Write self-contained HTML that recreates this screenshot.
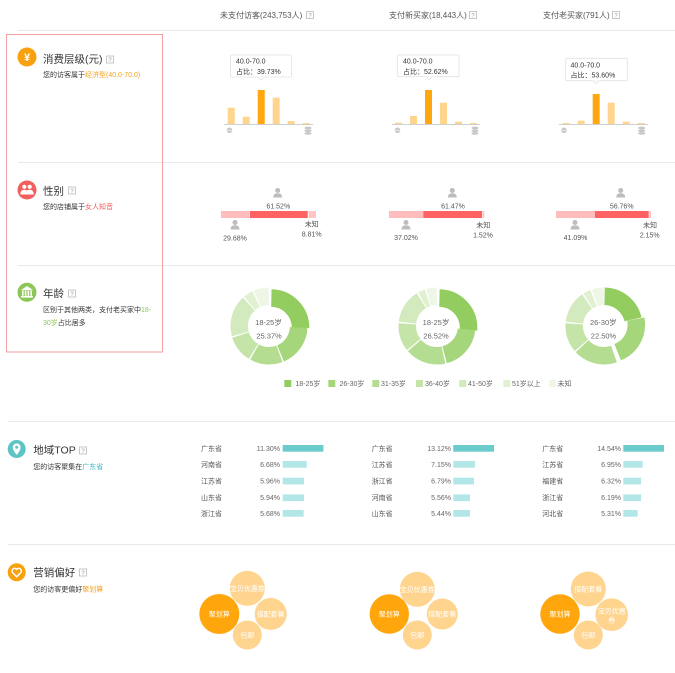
<!DOCTYPE html>
<html><head><meta charset="utf-8"><style>
html,body{margin:0;padding:0;background:#fff;}
svg{display:block;font-family:"Liberation Sans","Noto Sans CJK SC",sans-serif;}
</style></head><body>
<svg width="675" height="673" viewBox="0 0 675 673" xmlns="http://www.w3.org/2000/svg">
<rect width="675" height="673" fill="#fff"/>
<!-- header -->
<g font-size="8" fill="#555">
<text x="220" y="18">未支付访客(243,753人)</text>
<rect x="306.5" y="11.5" width="7" height="7" fill="none" stroke="#bbb" stroke-width="0.8"/><text x="310" y="17.3" font-size="6" fill="#999" text-anchor="middle">?</text>
<text x="389" y="18">支付新买家(18,443人)</text>
<rect x="469.5" y="11.5" width="7" height="7" fill="none" stroke="#bbb" stroke-width="0.8"/><text x="473" y="17.3" font-size="6" fill="#999" text-anchor="middle">?</text>
<text x="543" y="18">支付老买家(791人)</text>
<rect x="612.5" y="11.5" width="7" height="7" fill="none" stroke="#bbb" stroke-width="0.8"/><text x="616" y="17.3" font-size="6" fill="#999" text-anchor="middle">?</text>
</g>
<!-- separators -->
<g stroke="#e9e9e9" stroke-width="1">
<line x1="18" y1="30.5" x2="675" y2="30.5"/>
<line x1="18" y1="162.5" x2="675" y2="162.5"/>
<line x1="18" y1="265.5" x2="675" y2="265.5"/>
<line x1="8" y1="421.5" x2="675" y2="421.5"/>
<line x1="8" y1="544.5" x2="675" y2="544.5"/>
</g>
<rect x="6.5" y="34.5" width="156" height="317.5" fill="none" stroke="#f2a0a0" stroke-width="1"/>

<!-- Row 1 title -->
<circle cx="27" cy="57" r="9.5" fill="#f8a10f"/>
<text x="27" y="61" font-size="11" font-weight="bold" fill="#fff" text-anchor="middle">¥</text>
<text x="43" y="62.5" font-size="10.5" fill="#333">消费层级(元)</text>
<rect x="106.5" y="56" width="7" height="7" fill="none" stroke="#bbb" stroke-width="0.8"/><text x="110" y="61.8" font-size="6" fill="#999" text-anchor="middle">?</text>
<text x="43" y="76.8" font-size="7" fill="#333">您的访客属于<tspan fill="#f9a21a">经济型(40.0-70.0)</tspan></text>

<!-- bar charts -->
<g fill="#ffd58e">
<rect x="227.7" y="107.7" width="7" height="16.3"/><rect x="242.7" y="116.7" width="7" height="7.3"/><rect x="272.7" y="97.7" width="7" height="26.3"/><rect x="287.7" y="121" width="7" height="3"/><rect x="302.7" y="123" width="7" height="1"/>
<rect x="395" y="122.7" width="7" height="1.3"/><rect x="410" y="116" width="7" height="8"/><rect x="440" y="102.7" width="7" height="21.3"/><rect x="455" y="121.7" width="7" height="2.3"/><rect x="470" y="123" width="7" height="1"/>
<rect x="562.7" y="123" width="7" height="1"/><rect x="577.7" y="120.7" width="7" height="3.3"/><rect x="607.7" y="102.7" width="7" height="21.3"/><rect x="622.7" y="121.7" width="7" height="2.3"/><rect x="637.7" y="123" width="7" height="1"/>
</g>
<g fill="#ffa70c">
<rect x="257.7" y="90" width="7" height="34"/>
<rect x="425" y="90" width="7" height="34"/>
<rect x="592.7" y="94" width="7" height="30"/>
</g>
<g stroke="#d0d0d0" stroke-width="1">
<line x1="224" y1="124.5" x2="313" y2="124.5"/>
<line x1="391.7" y1="124.5" x2="480" y2="124.5"/>
<line x1="559" y1="124.5" x2="648" y2="124.5"/>
</g>
<g fill="#c8c8c8">
<circle cx="229.5" cy="130.3" r="2.8"/><circle cx="397.5" cy="130.3" r="2.8"/><circle cx="564" cy="130.3" r="2.8"/>
<ellipse cx="308" cy="128" rx="3.6" ry="1.4"/><ellipse cx="308" cy="130.7" rx="3.6" ry="1.4"/><ellipse cx="308" cy="133.4" rx="3.6" ry="1.4"/>
<ellipse cx="475" cy="128" rx="3.6" ry="1.4"/><ellipse cx="475" cy="130.7" rx="3.6" ry="1.4"/><ellipse cx="475" cy="133.4" rx="3.6" ry="1.4"/>
<ellipse cx="641.7" cy="128" rx="3.6" ry="1.4"/><ellipse cx="641.7" cy="130.7" rx="3.6" ry="1.4"/><ellipse cx="641.7" cy="133.4" rx="3.6" ry="1.4"/>
</g>
<g fill="#fff" stroke="#fff" stroke-width="0.5">
<line x1="226.9" y1="130.3" x2="232.1" y2="130.3"/><line x1="394.9" y1="130.3" x2="400.1" y2="130.3"/><line x1="561.4" y1="130.3" x2="566.6" y2="130.3"/>
</g>
<!-- tooltips -->
<g fill="#fff" stroke="#e2e2e2" stroke-width="0.8">
<rect x="230.5" y="55" width="61" height="22" rx="1.5"/>
<rect x="397.3" y="55" width="61.7" height="21.7" rx="1.5"/>
<rect x="565.7" y="58.3" width="61.6" height="22.4" rx="1.5"/>
</g>
<g fill="#fff" stroke="#e2e2e2" stroke-width="0.8">
<path d="M258,77 L261,80 L264,77"/>
<path d="M426.3,76.7 L429.3,79.7 L432.3,76.7"/>
<path d="M593,80.7 L596,83.7 L599,80.7"/>
</g>
<g fill="#fff"><rect x="257" y="75.5" width="8" height="1.2"/><rect x="425.3" y="75.2" width="8" height="1.2"/><rect x="592" y="79.2" width="8" height="1.2"/></g>
<g font-size="7" fill="#333">
<text x="236" y="63.5">40.0-70.0</text><text x="236" y="74.2">占比：39.73%</text>
<text x="403" y="63.5">40.0-70.0</text><text x="403" y="74.2">占比：52.62%</text>
<text x="570.5" y="67.5">40.0-70.0</text><text x="570.5" y="77.5">占比：53.60%</text>
</g>

<!-- Row 2 gender -->
<circle cx="27" cy="190" r="9.5" fill="#f25f5f"/>
<g fill="#fff">
<circle cx="24.3" cy="186.8" r="2.1"/><path d="M20.3,194.5 q0-4.8 4-4.8 q4 0 4 4.8 z"/>
<circle cx="29.7" cy="186.8" r="2.1"/><path d="M25.7,194.5 q0-4.8 4-4.8 q4 0 4 4.8 z"/>
</g>
<text x="43" y="194.4" font-size="10.5" fill="#333">性别</text>
<rect x="68.5" y="187" width="7" height="7" fill="none" stroke="#bbb" stroke-width="0.8"/><text x="72" y="192.8" font-size="6" fill="#999" text-anchor="middle">?</text>
<text x="43" y="209.2" font-size="7" fill="#333">您的店铺属于<tspan fill="#f55b5b">女人知音</tspan></text>

<g>
<rect x="221" y="211" width="28.7" height="7" fill="#ffbcbc"/><rect x="250" y="211" width="57.7" height="7" fill="#ff6262"/><rect x="308.7" y="211" width="7.3" height="7" fill="#ffc4c4"/>
<rect x="389" y="211" width="34.3" height="7" fill="#ffbcbc"/><rect x="423.3" y="211" width="58.7" height="7" fill="#ff6262"/><rect x="482.5" y="211" width="1.8" height="7" fill="#ffc4c4"/>
<rect x="556" y="211" width="39" height="7" fill="#ffbcbc"/><rect x="595" y="211" width="53.7" height="7" fill="#ff6262"/><rect x="649.2" y="211" width="1.8" height="7" fill="#ffc4c4"/>
</g>
<g fill="#bdbdbd">
<circle cx="277.7" cy="190.5" r="2.5"/><path d="M273.2,197.5 q0-4.2 4.5-4.2 q4.5 0 4.5 4.2 z"/>
<circle cx="235" cy="222.5" r="2.5"/><path d="M230.5,229.5 q0-4.2 4.5-4.2 q4.5 0 4.5 4.2 z"/>
<circle cx="452.3" cy="190.5" r="2.5"/><path d="M447.8,197.5 q0-4.2 4.5-4.2 q4.5 0 4.5 4.2 z"/>
<circle cx="406" cy="222.5" r="2.5"/><path d="M401.5,229.5 q0-4.2 4.5-4.2 q4.5 0 4.5 4.2 z"/>
<circle cx="620.7" cy="190.5" r="2.5"/><path d="M616.2,197.5 q0-4.2 4.5-4.2 q4.5 0 4.5 4.2 z"/>
<circle cx="575" cy="222.5" r="2.5"/><path d="M570.5,229.5 q0-4.2 4.5-4.2 q4.5 0 4.5 4.2 z"/>
</g>
<g font-size="7" fill="#555" text-anchor="middle">
<text x="278.3" y="208.5">61.52%</text><text x="235" y="240.5">29.68%</text><text x="311.7" y="226.5">未知</text><text x="311.7" y="236.5">8.81%</text>
<text x="453" y="208.5">61.47%</text><text x="406" y="240">37.02%</text><text x="483.3" y="227.5">未知</text><text x="483" y="237.5">1.52%</text>
<text x="621.7" y="208.5">56.76%</text><text x="575.5" y="240">41.09%</text><text x="650" y="227.5">未知</text><text x="649.7" y="237.5">2.15%</text>
</g>

<!-- Row 3 age -->
<circle cx="27" cy="292.3" r="9.5" fill="#8cc656"/>
<g fill="#fff">
<path d="M20.8,290.3 L27,286 L33.2,290.3 Z"/>
<rect x="22" y="290.8" width="1.6" height="5"/><rect x="24.8" y="290.8" width="1.6" height="5"/><rect x="27.6" y="290.8" width="1.6" height="5"/><rect x="30.4" y="290.8" width="1.6" height="5"/>
<rect x="21" y="296" width="12" height="1.6"/>
</g>
<text x="43" y="297" font-size="10.5" fill="#333">年龄</text>
<rect x="68.5" y="290" width="7" height="7" fill="none" stroke="#bbb" stroke-width="0.8"/><text x="72" y="295.8" font-size="6" fill="#999" text-anchor="middle">?</text>
<text x="43" y="311.8" font-size="7" fill="#333">区别于其他两类，支付老买家中<tspan fill="#8cc656">18-</tspan></text>
<text x="43" y="325.2" font-size="7" fill="#333"><tspan fill="#8cc656">30岁</tspan>占比居多</text>

<!-- donuts -->
<g fill="none" stroke-width="17.5">
<g transform="rotate(-90 269 326)">
<circle cx="269" cy="326" r="29.75" stroke="#93cc5f" stroke-dasharray="46.31 200" stroke-dashoffset="-0.6" transform="translate(-1.75 1.8)"/>
<circle cx="269" cy="326" r="29.75" stroke="#a5d67b" stroke-dasharray="33.33 200" stroke-dashoffset="-48.11"/>
<circle cx="269" cy="326" r="29.75" stroke="#b5dd92" stroke-dasharray="25.8 200" stroke-dashoffset="-82.63"/>
<circle cx="269" cy="326" r="29.75" stroke="#c4e4a8" stroke-dasharray="21.13 200" stroke-dashoffset="-109.63"/>
<circle cx="269" cy="326" r="29.75" stroke="#d2eabd" stroke-dasharray="32.55 200" stroke-dashoffset="-131.96"/>
<circle cx="269" cy="326" r="29.75" stroke="#e0f0d1" stroke-dasharray="7.63 200" stroke-dashoffset="-165.71"/>
<circle cx="269" cy="326" r="29.75" stroke="#eef6e5" stroke-dasharray="11.78 200" stroke-dashoffset="-174.53"/>
</g>
<g transform="rotate(-90 437 326)">
<circle cx="437" cy="326" r="29.75" stroke="#93cc5f" stroke-dasharray="48.38 200" stroke-dashoffset="-0.6" transform="translate(-1.7 1.85)"/>
<circle cx="437" cy="326" r="29.75" stroke="#a5d67b" stroke-dasharray="35.4 200" stroke-dashoffset="-50.18"/>
<circle cx="437" cy="326" r="29.75" stroke="#b5dd92" stroke-dasharray="32.03 200" stroke-dashoffset="-86.79"/>
<circle cx="437" cy="326" r="29.75" stroke="#c4e4a8" stroke-dasharray="22.16 200" stroke-dashoffset="-120.02"/>
<circle cx="437" cy="326" r="29.75" stroke="#d2eabd" stroke-dasharray="26.84 200" stroke-dashoffset="-143.38"/>
<circle cx="437" cy="326" r="29.75" stroke="#e0f0d1" stroke-dasharray="5.55 200" stroke-dashoffset="-171.42"/>
<circle cx="437" cy="326" r="29.75" stroke="#eef6e5" stroke-dasharray="8.15 200" stroke-dashoffset="-178.17"/>
</g>
<g transform="rotate(-90 604 326)">
<circle cx="604" cy="326" r="29.75" stroke="#93cc5f" stroke-dasharray="39.3 200" stroke-dashoffset="-0.6"/>
<circle cx="604" cy="326" r="29.75" stroke="#a5d67b" stroke-dasharray="40.86 200" stroke-dashoffset="-41.1" transform="translate(1.4 2.6)"/>
<circle cx="604" cy="326" r="29.75" stroke="#b5dd92" stroke-dasharray="34.62 200" stroke-dashoffset="-83.15"/>
<circle cx="604" cy="326" r="29.75" stroke="#c4e4a8" stroke-dasharray="23.2 200" stroke-dashoffset="-118.98"/>
<circle cx="604" cy="326" r="29.75" stroke="#d2eabd" stroke-dasharray="25.28 200" stroke-dashoffset="-143.38"/>
<circle cx="604" cy="326" r="29.75" stroke="#e0f0d1" stroke-dasharray="6.07 200" stroke-dashoffset="-169.86"/>
<circle cx="604" cy="326" r="29.75" stroke="#eef6e5" stroke-dasharray="9.18 200" stroke-dashoffset="-177.13"/>
</g>
</g>
<g font-size="7.5" fill="#666" text-anchor="middle">
<text x="268.5" y="325">18-25岁</text><text x="269" y="338.3">25.37%</text>
<text x="436" y="325">18-25岁</text><text x="436" y="338.3">26.52%</text>
<text x="603.3" y="325">26-30岁</text><text x="603.5" y="338.3">22.50%</text>
</g>
<!-- legend -->
<g>
<rect x="284.3" y="380" width="7" height="7" fill="#93cc5f"/>
<rect x="328.3" y="380" width="7" height="7" fill="#a5d67b"/>
<rect x="372.3" y="380" width="7" height="7" fill="#b5dd92"/>
<rect x="416" y="380" width="7" height="7" fill="#c4e4a8"/>
<rect x="459.3" y="380" width="7" height="7" fill="#d2eabd"/>
<rect x="503.3" y="380" width="7" height="7" fill="#e0f0d1"/>
<rect x="549.3" y="380" width="7" height="7" fill="#eef6e5"/>
</g>
<g font-size="7" fill="#666">
<text x="295.5" y="386">18-25岁</text>
<text x="339.5" y="386">26-30岁</text>
<text x="381" y="386">31-35岁</text>
<text x="425" y="386">36-40岁</text>
<text x="468" y="386">41-50岁</text>
<text x="512" y="386">51岁以上</text>
<text x="557.5" y="386">未知</text>
</g>

<!-- Row 4 region -->
<circle cx="16.7" cy="449" r="9" fill="#5ec4c4"/>
<path d="M16.7,455 C14,451.5 12.8,449.5 12.8,447.3 A3.9,3.9 0 0 1 20.6,447.3 C20.6,449.5 19.4,451.5 16.7,455 Z" fill="#fff"/>
<circle cx="16.7" cy="447.3" r="1.5" fill="#5ec4c4"/>
<text x="33.3" y="453.7" font-size="10.5" fill="#333">地域TOP</text>
<rect x="79.5" y="447" width="7" height="7" fill="none" stroke="#bbb" stroke-width="0.8"/><text x="83" y="452.8" font-size="6" fill="#999" text-anchor="middle">?</text>
<text x="33.3" y="469.2" font-size="7" fill="#333">您的访客聚集在<tspan fill="#3cb4c0">广东省</tspan></text>

<g font-size="7" fill="#555">
<text x="201" y="450.8">广东省</text><text x="201" y="466.8">河南省</text><text x="201" y="483.5">江苏省</text><text x="201" y="500.2">山东省</text><text x="201" y="515.8">浙江省</text>
<text x="371.7" y="450.8">广东省</text><text x="371.7" y="466.8">江苏省</text><text x="371.7" y="483.5">浙江省</text><text x="371.7" y="500.2">河南省</text><text x="371.7" y="515.8">山东省</text>
<text x="542.3" y="450.8">广东省</text><text x="542.3" y="466.8">江苏省</text><text x="542.3" y="483.5">福建省</text><text x="542.3" y="500.2">浙江省</text><text x="542.3" y="515.8">河北省</text>
</g>
<g font-size="7" fill="#666" text-anchor="end">
<text x="280" y="450.8">11.30%</text><text x="280" y="466.8">6.68%</text><text x="280" y="483.5">5.96%</text><text x="280" y="500.2">5.94%</text><text x="280" y="515.8">5.68%</text>
<text x="451" y="450.8">13.12%</text><text x="451" y="466.8">7.15%</text><text x="451" y="483.5">6.79%</text><text x="451" y="500.2">5.56%</text><text x="451" y="515.8">5.44%</text>
<text x="621" y="450.8">14.54%</text><text x="621" y="466.8">6.95%</text><text x="621" y="483.5">6.32%</text><text x="621" y="500.2">6.19%</text><text x="621" y="515.8">5.31%</text>
</g>
<g fill="#6ccbcb">
<rect x="282.7" y="445" width="40.7" height="6.7"/>
<rect x="453.3" y="445" width="40.7" height="6.7"/>
<rect x="623.3" y="445" width="40.7" height="6.7"/>
</g>
<g fill="#b3e7e7">
<rect x="282.7" y="461" width="24" height="6.7"/><rect x="282.7" y="477.7" width="21.3" height="6.7"/><rect x="282.7" y="494.4" width="21.3" height="6.7"/><rect x="282.7" y="510" width="21" height="6.7"/>
<rect x="453.3" y="461" width="21.7" height="6.7"/><rect x="453.3" y="477.7" width="20.7" height="6.7"/><rect x="453.3" y="494.4" width="16.7" height="6.7"/><rect x="453.3" y="510" width="16.7" height="6.7"/>
<rect x="623.3" y="461" width="19.3" height="6.7"/><rect x="623.3" y="477.7" width="17.7" height="6.7"/><rect x="623.3" y="494.4" width="17.7" height="6.7"/><rect x="623.3" y="510" width="14.3" height="6.7"/>
</g>

<!-- Row 5 marketing -->
<circle cx="16.7" cy="572.3" r="9" fill="#f8a10f"/>
<path d="M16.7,576.8 L12.6,572.6 A2.3,2.3 0 0 1 16.7,569.4 A2.3,2.3 0 0 1 20.8,572.6 Z" fill="none" stroke="#fff" stroke-width="1.5" stroke-linejoin="round"/>
<text x="33.3" y="576" font-size="10.5" fill="#333">营销偏好</text>
<rect x="79.5" y="569" width="7" height="7" fill="none" stroke="#bbb" stroke-width="0.8"/><text x="83" y="574.8" font-size="6" fill="#999" text-anchor="middle">?</text>
<text x="33.3" y="591.5" font-size="7" fill="#333">您的访客更偏好<tspan fill="#f9a21a">聚划算</tspan></text>

<g fill="#ffd48f">
<circle cx="247.3" cy="588.3" r="17.5"/><circle cx="270.7" cy="614" r="16"/><circle cx="247.3" cy="635" r="14.5"/>
<circle cx="417.3" cy="589.3" r="17.5"/><circle cx="442.3" cy="614" r="15.5"/><circle cx="417.3" cy="635" r="14.5"/>
<circle cx="588.3" cy="589" r="17.5"/><circle cx="611.7" cy="614.7" r="16.3"/><circle cx="588.3" cy="635" r="14.5"/>
</g>
<g fill="#ffa60c">
<circle cx="219.3" cy="614" r="20"/>
<circle cx="389.3" cy="614" r="19.7"/>
<circle cx="560" cy="614" r="19.7"/>
</g>
<g font-size="7" fill="#fff" text-anchor="middle">
<text x="219.3" y="616.5">聚划算</text><text x="247.3" y="590.8">宝贝优惠券</text><text x="270.7" y="616.5">搭配套餐</text><text x="247.3" y="637.5">包邮</text>
<text x="389.3" y="616.5">聚划算</text><text x="417.3" y="591.8">宝贝优惠券</text><text x="442.3" y="616.5">搭配套餐</text><text x="417.3" y="637.5">包邮</text>
<text x="560" y="616.5">聚划算</text><text x="588.3" y="591.5">搭配套餐</text><text x="611.7" y="613.3">宝贝优惠</text><text x="611.7" y="622.5">券</text><text x="588.3" y="637.5">包邮</text>
</g>
</svg>
</body></html>
